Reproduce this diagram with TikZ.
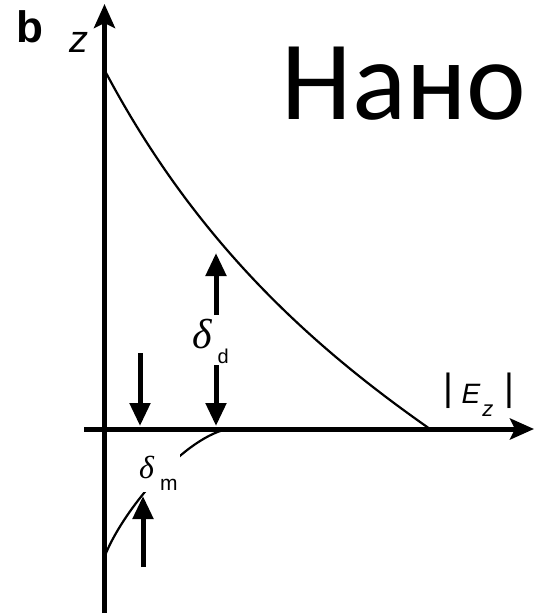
\documentclass[tikz,border=0pt]{standalone}
\usepackage{fontspec}
\setmainfont{Liberation Sans}
\newfontfamily\nanofont{Carlito}
\newfontfamily\greekfont{Liberation Serif}
\usetikzlibrary{arrows.meta}

\begin{document}
\begin{tikzpicture}[x=1pt,y=-1pt,
  axis/.style={line width=5pt,-{Stealth[width=21pt,length=24pt,inset=5pt]}},
  marker/.style={line width=5pt,-{Triangle[width=20pt,length=23pt]}},
  field/.style={line width=2.2pt}]
  \useasboundingbox (0,0) rectangle (535,615);

  % axes
  \coordinate (O) at (104.5,429);
  \coordinate (Zbot) at (104.5,613);
  \coordinate (Ztop) at (104.5,4);
  \coordinate (Xbeg) at (84,429);
  \coordinate (Xend) at (534,429);
  \draw[axis] (Zbot) -- (Ztop);
  \draw[axis] (Xbeg) -- (Xend);

  % field in the dielectric and in the metal
  \coordinate (Dtop) at (104.5,70);
  \coordinate (Dend) at (430,429);
  \coordinate (Mbot) at (104.5,557);
  \coordinate (Mend) at (227,429);
  \draw[field] (Dtop) .. controls (195,241) and (310,345) .. (Dend);
  \draw[field] (Mbot) .. controls (120,515) and (180,440) .. (Mend);

  % labels
  \node[inner sep=0pt] (b) at (29.5,27) {\fontsize{44}{46}\selectfont\bfseries b};
  \node[inner sep=0pt] (z) at (78.5,42.5) {\fontsize{38}{40}\selectfont\itshape z};
  \node[anchor=base,inner sep=0pt] (nano) at (404,120)
    {\nanofont\fontsize{113}{120}\selectfont Нано};
  \node[anchor=base west,inner sep=0pt] (Ez) at (443.5,400)
    {{\fontsize{38}{40}\selectfont|}\kern8pt\raisebox{-3pt}{\fontsize{28}{30}\selectfont\itshape E}%
     \kern2pt\raisebox{-16pt}{\fontsize{22}{24}\selectfont\itshape z}\kern11pt{\fontsize{38}{40}\selectfont|}};
  \node[anchor=base west,inner sep=0pt] (dd) at (192,348)
    {{\greekfont\itshape\fontsize{42}{44}\selectfont δ}\kern6pt\raisebox{-15pt}{\fontsize{20}{22}\selectfont d}};
  \node[anchor=base west,inner sep=2pt,fill=white] (dm) at (137,478)
    {{\greekfont\itshape\fontsize{32}{34}\selectfont δ}\kern6pt\raisebox{-12pt}{\fontsize{21}{22}\selectfont m}};

  % markers
  \coordinate (Lt) at (140,353);
  \coordinate (Lb) at (140,426);
  \coordinate (Dut) at (216,315);
  \coordinate (Duh) at (216,253);
  \coordinate (Ddt) at (216,365);
  \coordinate (Ddh) at (216,426);
  \coordinate (Mut) at (143,567);
  \coordinate (Muh) at (143,496);
  \draw[marker] (Lt) -- (Lb);
  \draw[marker] (Dut) -- (Duh);
  \draw[marker] (Ddt) -- (Ddh);
  \draw[marker] (Mut) -- (Muh);
\end{tikzpicture}
\end{document}
